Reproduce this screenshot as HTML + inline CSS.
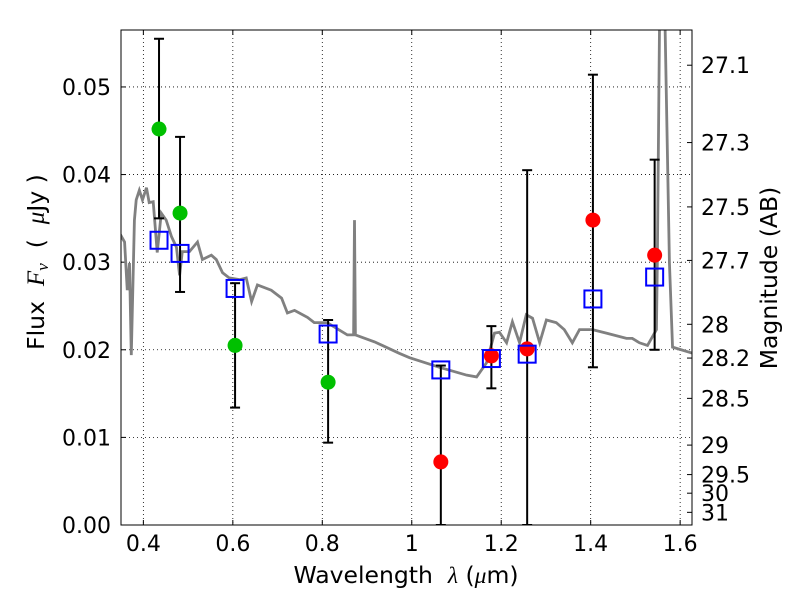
<!DOCTYPE html>
<html><head><meta charset="utf-8"><style>
body{margin:0;background:#fff;}
svg text{font-family:"DejaVu Sans","Liberation Sans",sans-serif;fill:#000;white-space:pre;}
</style></head><body>
<svg id="chart" width="800" height="600" xmlns="http://www.w3.org/2000/svg"></svg>
<script>
const specWl=[0.346,0.358,0.364,0.369,0.373,0.380,0.384,0.391,0.398,0.407,0.413,0.422,0.431,0.440,0.451,0.463,0.474,0.481,0.487,0.503,0.521,0.532,0.552,0.563,0.577,0.592,0.615,0.630,0.642,0.655,0.686,0.709,0.722,0.738,0.767,0.782,0.811,0.856,0.870,0.872,0.874,0.917,0.972,0.995,1.062,1.123,1.145,1.167,1.185,1.196,1.212,1.225,1.241,1.256,1.270,1.286,1.301,1.323,1.341,1.359,1.375,1.404,1.435,1.480,1.493,1.509,1.527,1.547,1.549,1.558,1.576,1.583,1.628];
const specF=[0.0334,0.0323,0.0268,0.0299,0.0194,0.0348,0.0371,0.0382,0.0371,0.0385,0.0368,0.0369,0.0311,0.0356,0.0348,0.0329,0.0317,0.0285,0.0312,0.0312,0.0323,0.0303,0.0308,0.0303,0.0288,0.0282,0.0280,0.0282,0.0255,0.0274,0.0268,0.0259,0.0242,0.0245,0.0237,0.0231,0.0231,0.0217,0.0217,0.0348,0.0217,0.0209,0.0196,0.0191,0.0180,0.0171,0.0169,0.0185,0.0219,0.0220,0.0208,0.0232,0.0208,0.0240,0.0236,0.0208,0.0234,0.0231,0.0223,0.0208,0.0223,0.0223,0.0219,0.0213,0.0213,0.0208,0.0205,0.0223,0.0300,0.0800,0.0300,0.0203,0.0196];
const phWl=[0.435,0.482,0.605,0.813,1.065,1.178,1.258,1.405,1.543];
const phF=[0.0452,0.0356,0.0205,0.0163,0.0072,0.0193,0.0201,0.0348,0.0308];
const phColor=['#00c000','#00c000','#00c000','#00c000','#ff0000','#ff0000','#ff0000','#ff0000','#ff0000'];
const errHi=[0.0555,0.0443,0.0276,0.0234,0.0182,0.0227,0.0405,0.0514,0.0417];
const errLo=[0.0350,0.0266,0.0134,0.0094,0.0,0.0156,0.0,0.0180,0.0200];
const modelF=[0.0325,0.0310,0.0270,0.0218,0.0177,0.0190,0.0195,0.0258,0.0283];
const xTicks=[0.4,0.6,0.8,1.0,1.2,1.4,1.6];
const xTickLabels=['0.4','0.6','0.8','1','1.2','1.4','1.6'];
const yTicks=[0,0.01,0.02,0.03,0.04,0.05];
const yTickLabels=['0.00','0.01','0.02','0.03','0.04','0.05'];
const magTicks=[27.1,27.3,27.5,27.7,28,28.2,28.5,29,29.5,30,31];
const magLabels=['27.1','27.3','27.5','27.7','28','28.2','28.5','29','29.5','30','31'];

const L=121,R=692,T=30,B=525,xMin=0.35,xMax=1.6265,yMin=0,yMax=0.0565;
const X=v=>L+(v-xMin)/(xMax-xMin)*(R-L);
const Y=v=>B-(v-yMin)/(yMax-yMin)*(B-T);
const NS='http://www.w3.org/2000/svg';
const svg=document.getElementById('chart');
function mk(tag,attrs,parent){const e=document.createElementNS(NS,tag);for(const k in attrs)e.setAttribute(k,attrs[k]);(parent||svg).appendChild(e);return e;}
const defs=mk('defs',{});const cp=mk('clipPath',{id:'clip'},defs);mk('rect',{x:L,y:T,width:R-L,height:B-T},cp);
const FS=22, TS=23.5;

xTicks.forEach((t,i)=>{
 const g=mk('line',{x1:X(t),x2:X(t),y1:T,y2:B,stroke:'#000','stroke-width':0.8,'stroke-dasharray':'1,3'});
 
 
 mk('line',{x1:X(t),x2:X(t),y1:B,y2:B-5,stroke:'#000'});
 mk('line',{x1:X(t),x2:X(t),y1:T,y2:T+5,stroke:'#000'});
 const tx=mk('text',{x:X(t),y:B+26,'font-size':FS,'text-anchor':'middle'});tx.textContent=xTickLabels[i];
 
 
});
yTicks.forEach((t,i)=>{
 const g=mk('line',{x1:L,x2:R,y1:Y(t),y2:Y(t),stroke:'#000','stroke-width':0.8,'stroke-dasharray':'1,3'});
 
 
 mk('line',{x1:L,x2:L+5,y1:Y(t),y2:Y(t),stroke:'#000'});
 const tx=mk('text',{x:L-10,y:Y(t)+8,'font-size':FS,'text-anchor':'end'});tx.textContent=yTickLabels[i];
 
 
});
magTicks.forEach((m,i)=>{
 const f=Math.pow(10,(23.9-m)/2.5);const y=Y(f);
 mk('line',{x1:R-5,x2:R,y1:y,y2:y,stroke:'#000'});
 const tx=mk('text',{x:R+9,y:y+8,'font-size':FS});tx.textContent=magLabels[i];
 
 
});

const g=mk('g',{'clip-path':'url(#clip)'});
const sp=mk('polyline',{points:specWl.map((w,i)=>X(w)+','+Y(specF[i])).join(' '),fill:'none',stroke:'#808080','stroke-width':2.8},g);



phWl.forEach((w,i)=>{
 const e=mk('g',{},g);
 
 
 mk('line',{x1:X(w),x2:X(w),y1:Y(errHi[i]),y2:Y(errLo[i]),stroke:'#000','stroke-width':2},e);
 mk('line',{x1:X(w)-5,x2:X(w)+5,y1:Y(errHi[i]),y2:Y(errHi[i]),stroke:'#000','stroke-width':2},e);
 mk('line',{x1:X(w)-5,x2:X(w)+5,y1:Y(errLo[i]),y2:Y(errLo[i]),stroke:'#000','stroke-width':2},e);
});
phWl.forEach((w,i)=>{
 const c=mk('circle',{cx:X(w),cy:Y(phF[i]),r:7.5,fill:phColor[i]},g);
 
 
});
phWl.forEach((w,i)=>{
 const s=mk('rect',{x:X(w)-8.5,y:Y(modelF[i])-8.5,width:17,height:17,fill:'none',stroke:'#0000ff','stroke-width':2},g);
 
 
});

const fr=mk('rect',{x:L,y:T,width:R-L,height:B-T,fill:'none',stroke:'#000','stroke-width':1});



const xl=mk('text',{x:406,y:583,'font-size':TS,'text-anchor':'middle'});
xl.innerHTML='Wavelength\u00a0\u00a0<tspan font-family="Liberation Serif" font-style="italic">λ</tspan> (<tspan font-family="Liberation Serif" font-style="italic">μ</tspan>m)';


const yl=mk('text',{x:0,y:0,'font-size':TS,'text-anchor':'middle',transform:'translate(44,262) rotate(-90)'});
yl.innerHTML='Flux\u00a0\u00a0<tspan font-family="Liberation Serif" font-style="italic" font-size="25">F<tspan font-size="17" dy="4">ν</tspan></tspan><tspan dy="-4">\u00a0\u00a0(\u00a0\u00a0</tspan><tspan font-family="Liberation Serif" font-style="italic" font-size="25">μ</tspan>Jy )';


const ml=mk('text',{x:0,y:0,'font-size':TS,'text-anchor':'middle',transform:'translate(777,278) rotate(-90)'});
ml.textContent='Magnitude (AB)';


</script>
</body></html>
